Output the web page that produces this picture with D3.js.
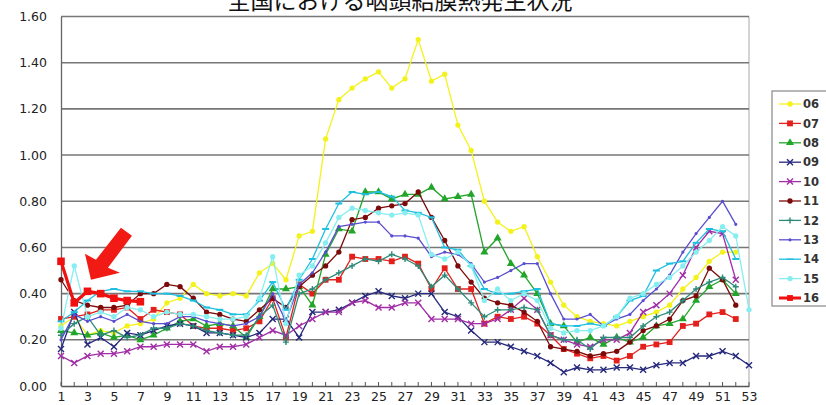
<!DOCTYPE html>
<html>
<head>
<meta charset="utf-8">
<script src="https://cdn.jsdelivr.net/npm/d3@7"></script>
<style>
  body { margin: 0; background: #fff; }
  svg { display: block; }
  .tick text { font-family: "DejaVu Sans", sans-serif; fill: #222; }
</style>
</head>
<body>
<script>
// weeks and per-year values (cases per sentinel)
var weeks = d3.range(1, 54);
var yTicks = [0, 0.2, 0.4, 0.6, 0.8, 1.0, 1.2, 1.4, 1.6];
var xTickLabels = d3.range(1, 54, 2);
var seriesNames = ["06", "07", "08", "09", "10", "11", "12", "13", "14", "15", "16"];

var s06 = [0.26,0.30,0.22,0.24,0.23,0.26,0.27,0.29,0.36,0.38,
  0.44,0.40,0.39,0.40,0.39,0.49,0.53,0.46,0.65,0.67,
  1.07,1.24,1.29,1.33,1.36,1.29,1.33,1.50,1.32,1.35,
  1.13,1.02,0.80,0.71,0.67,0.69,0.56,0.45,0.35,0.30,
  0.28,0.27,0.26,0.28,0.30,0.32,0.35,0.42,0.47,0.54,0.58,0.58];
var s07 = [0.29,0.30,0.31,0.33,0.33,0.34,0.29,0.33,0.32,0.31,
  0.26,0.25,0.25,0.24,0.25,0.28,0.38,0.21,0.44,0.40,
  0.46,0.46,0.56,0.55,0.55,0.54,0.56,0.53,0.42,0.51,
  0.42,0.42,0.27,0.30,0.29,0.30,0.27,0.22,0.16,0.14,
  0.12,0.13,0.11,0.13,0.17,0.18,0.19,0.26,0.27,0.31,0.32,0.29];
var s08 = [0.24,0.23,0.22,0.23,0.21,0.22,0.20,0.22,0.25,0.28,
  0.29,0.26,0.27,0.26,0.21,0.30,0.42,0.42,0.43,0.35,
  0.57,0.68,0.67,0.84,0.84,0.81,0.83,0.83,0.86,0.81,
  0.82,0.83,0.58,0.64,0.53,0.48,0.40,0.27,0.26,0.19,
  0.21,0.18,0.21,0.19,0.21,0.26,0.27,0.29,0.37,0.43,0.46,0.40];
var s09 = [0.16,0.32,0.18,0.21,0.17,0.23,0.22,0.24,0.26,0.27,
  0.26,0.23,0.23,0.22,0.21,0.23,0.29,0.29,0.21,0.32,
  0.32,0.33,0.36,0.39,0.41,0.39,0.38,0.40,0.40,0.32,
  0.30,0.24,0.19,0.19,0.17,0.15,0.13,0.10,0.06,0.08,
  0.07,0.07,0.08,0.08,0.07,0.09,0.10,0.10,0.13,0.13,0.15,0.13,0.09];
var s10 = [0.13,0.10,0.13,0.14,0.14,0.15,0.17,0.17,0.18,0.18,
  0.18,0.15,0.17,0.17,0.18,0.21,0.24,0.22,0.26,0.29,
  0.32,0.32,0.36,0.37,0.34,0.34,0.36,0.36,0.29,0.29,
  0.29,0.27,0.27,0.29,0.33,0.38,0.33,0.22,0.20,0.18,
  0.17,0.20,0.20,0.23,0.32,0.35,0.40,0.48,0.60,0.67,0.66,0.46];
var s11 = [0.46,0.37,0.35,0.34,0.34,0.35,0.40,0.40,0.44,0.43,
  0.38,0.32,0.31,0.29,0.28,0.33,0.38,0.34,0.43,0.48,
  0.52,0.58,0.72,0.73,0.77,0.78,0.79,0.84,0.73,0.63,
  0.52,0.45,0.38,0.36,0.35,0.32,0.28,0.17,0.16,0.15,
  0.13,0.14,0.15,0.19,0.24,0.26,0.29,0.37,0.39,0.51,0.46,0.35];
var s12 = [0.22,0.27,0.30,0.22,0.24,0.21,0.22,0.25,0.25,0.27,
  0.26,0.24,0.23,0.22,0.22,0.30,0.35,0.19,0.40,0.42,
  0.46,0.49,0.52,0.55,0.54,0.57,0.55,0.52,0.43,0.48,
  0.42,0.36,0.30,0.33,0.33,0.34,0.33,0.22,0.20,0.20,
  0.16,0.21,0.21,0.21,0.26,0.30,0.32,0.37,0.42,0.45,0.47,0.43];
var s13 = [0.20,0.31,0.28,0.30,0.28,0.31,0.28,0.27,0.27,0.30,
  0.30,0.28,0.27,0.26,0.27,0.30,0.40,0.28,0.44,0.49,
  0.58,0.69,0.70,0.71,0.71,0.65,0.65,0.64,0.56,0.58,
  0.57,0.53,0.45,0.47,0.50,0.53,0.53,0.40,0.29,0.29,
  0.31,0.26,0.29,0.31,0.37,0.42,0.48,0.58,0.66,0.73,0.80,0.70];
var s14 = [0.28,0.32,0.37,0.41,0.42,0.41,0.41,0.40,0.40,0.39,
  0.37,0.34,0.33,0.31,0.31,0.37,0.45,0.33,0.46,0.55,
  0.68,0.79,0.84,0.83,0.84,0.82,0.76,0.75,0.73,0.60,
  0.59,0.52,0.42,0.40,0.40,0.41,0.42,0.27,0.26,0.26,
  0.27,0.26,0.30,0.37,0.39,0.50,0.53,0.54,0.62,0.68,0.67,0.55];
var s15 = [0.25,0.52,0.30,0.32,0.30,0.34,0.33,0.30,0.32,0.31,
  0.31,0.30,0.29,0.29,0.30,0.38,0.56,0.27,0.48,0.52,
  0.62,0.73,0.77,0.76,0.75,0.74,0.75,0.74,0.57,0.55,
  0.58,0.52,0.37,0.42,0.37,0.40,0.37,0.25,0.23,0.24,
  0.24,0.26,0.30,0.38,0.40,0.44,0.47,0.52,0.58,0.63,0.69,0.65,0.33];
var s16 = [0.54,0.36,0.41,0.40,0.38,0.37,0.365];

// styles
var colors = ["#f4f21c", "#e3201b", "#22a52a", "#26287c", "#a12ea6", "#7c0a0a",
              "#2c8a78", "#5a4ed0", "#1fbfe0", "#86eef0", "#f01010"];
var markers = ["circle", "square", "triangle", "x", "x", "circle",
               "plus", "dot", "dash", "circle", "square"];

var allValues = [s06, s07, s08, s09, s10, s11, s12, s13, s14, s15, s16];
var series = seriesNames.map(function(n, i) {
  return {name: n, values: allValues[i], color: colors[i], marker: markers[i]};
});

var width = 826, height = 405;
var svg = d3.select("body").append("svg")
  .attr("width", width)
  .attr("height", height);

var x = d3.scaleLinear().domain([1, 53]).range([61, 749]);
var y = d3.scaleLinear().domain([0, 1.6]).range([386, 16.5]);

// title (cut off by the top of the picture)
svg.append("text")
  .attr("x", 400)
  .attr("y", 9)
  .attr("text-anchor", "middle")
  .style("font-family", "'Noto Sans CJK JP', sans-serif")
  .style("font-size", "23px")
  .style("fill", "#111")
  .text("全国における咽頭結膜熱発生状況");

// right border of plot
svg.append("line")
  .attr("x1", x(53)).attr("x2", x(53))
  .attr("y1", y(1.6)).attr("y2", y(0))
  .attr("stroke", "#c4c4c4").attr("stroke-width", 1.5);

// gridlines
svg.append("g").selectAll("line")
  .data(yTicks.slice(1))
  .enter().append("line")
  .attr("x1", x(1)).attr("x2", x(53))
  .attr("y1", function(d) { return y(d); })
  .attr("y2", function(d) { return y(d); })
  .attr("stroke", "#777").attr("stroke-width", 1.6);

// y axis
var yAxis = svg.append("g")
  .attr("transform", "translate(" + x(1) + ",0)")
  .call(d3.axisLeft(y).tickValues(yTicks).tickFormat(d3.format(".2f")).tickSize(0).tickPadding(14));
yAxis.select(".domain").attr("stroke", "#666").attr("stroke-width", 1.3);
yAxis.selectAll("text").style("font-size", "12.5px");

// x axis: a small tick every week, label every other week
var xAxis = svg.append("g")
  .attr("transform", "translate(0," + y(0) + ")")
  .call(d3.axisBottom(x).tickValues(xTickLabels).tickFormat(d3.format("d")).tickSize(0).tickPadding(6));
xAxis.select(".domain").attr("stroke", "#555").attr("stroke-width", 1.3);
xAxis.selectAll("text").style("font-size", "12.5px");
svg.append("g").selectAll("line")
  .data(weeks)
  .enter().append("line")
  .attr("x1", function(d) { return x(d); })
  .attr("x2", function(d) { return x(d); })
  .attr("y1", y(0)).attr("y2", y(0) - 4)
  .attr("stroke", "#555").attr("stroke-width", 1);

var line = d3.line()
  .x(function(d, i) { return x(i + 1); })
  .y(function(d) { return y(d); });

function markerPath(type) {
  if (type === "circle") return d3.symbol().type(d3.symbolCircle).size(22)();
  if (type === "square") return d3.symbol().type(d3.symbolSquare).size(34)();
  if (type === "triangle") return d3.symbol().type(d3.symbolTriangle).size(28)();
  if (type === "dot") return d3.symbol().type(d3.symbolCircle).size(8)();
  if (type === "x") return "M-3,-3L3,3M-3,3L3,-3";
  if (type === "plus") return "M-3,0L3,0M0,-3L0,3";
  if (type === "dash") return "M-3.5,0L3.5,0";
}
function isStroked(type) {
  return type === "x" || type === "plus" || type === "dash";
}

var plot = svg.append("g");
series.forEach(function(s) {
  var g = plot.append("g");
  var thick = s.name === "16";
  g.append("path")
    .datum(s.values)
    .attr("fill", "none")
    .attr("stroke", s.color)
    .attr("stroke-width", thick ? 3.2 : 1.3)
    .attr("d", line);
  g.selectAll("path.m")
    .data(s.values)
    .enter().append("path")
    .attr("class", "m")
    .attr("transform", function(d, i) { return "translate(" + x(i + 1) + "," + y(d) + ")" + (thick ? " scale(1.3)" : ""); })
    .attr("d", markerPath(s.marker))
    .attr("fill", isStroked(s.marker) ? "none" : s.color)
    .attr("stroke", isStroked(s.marker) ? s.color : "none")
    .attr("stroke-width", s.marker === "dash" ? 2 : 1.4);
});

// legend
var legend = svg.append("g").attr("transform", "translate(772,91)");
legend.append("rect")
  .attr("x", 0).attr("y", 0)
  .attr("width", 60).attr("height", 215)
  .attr("fill", "#fff")
  .attr("stroke", "#888").attr("stroke-width", 1.2);
var item = legend.selectAll("g.item")
  .data(series)
  .enter().append("g")
  .attr("class", "item")
  .attr("transform", function(d, i) { return "translate(0," + (13 + i * 19.4) + ")"; });
item.append("line")
  .attr("x1", 7).attr("x2", 29)
  .attr("stroke", function(d) { return d.color; })
  .attr("stroke-width", function(d) { return d.name === "16" ? 3 : 1.3; });
item.append("path")
  .attr("transform", "translate(18,0)")
  .attr("d", function(d) { return markerPath(d.marker); })
  .attr("fill", function(d) { return isStroked(d.marker) ? "none" : d.color; })
  .attr("stroke", function(d) { return isStroked(d.marker) ? d.color : "none"; })
  .attr("stroke-width", 1.4);
item.append("text")
  .attr("x", 31)
  .attr("dy", "0.36em")
  .style("font-family", "'DejaVu Sans', sans-serif")
  .style("font-size", "11.5px")
  .style("font-weight", "bold")
  .style("fill", "#333")
  .text(function(d) { return d.name; });

// red arrow pointing at week 3 of 2016
var ax = x(3) + 3.5, ay = y(0.46);
var arrow = [[ax, ay], [ax - 6, ay - 26], [ax + 5, ay - 20], [ax + 30, ay - 52],
             [ax + 41, ay - 44], [ax + 17, ay - 12], [ax + 29, ay - 7]];
svg.append("path")
  .attr("d", "M" + arrow.join("L") + "Z")
  .attr("fill", "#f21a14");
</script>
</body>
</html>
